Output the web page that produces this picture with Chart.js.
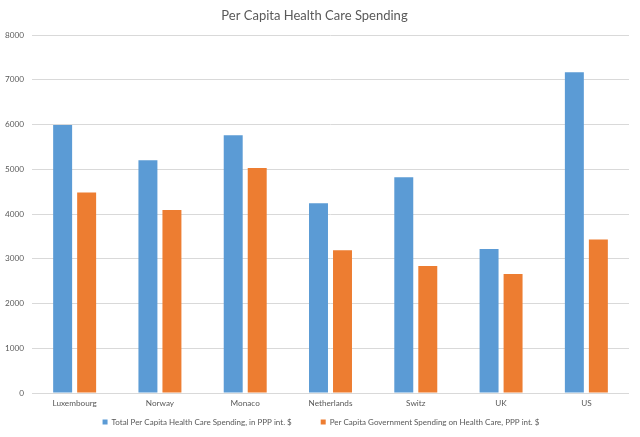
<!DOCTYPE html>
<html>
<head>
<meta charset="utf-8">
<script src="https://cdn.jsdelivr.net/npm/chart.js@4/dist/chart.umd.min.js"></script>
<style>
html,body{margin:0;padding:0;background:#fff;}
#wrap{width:640px;height:437px;position:relative;}
</style>
</head>
<body>
<div id="wrap"><canvas id="c"></canvas></div>
<script>
const categories = ["Luxembourg","Norway","Monaco","Netherlands","Switz","UK","US"];
const totalSpending = [5990,5200,5760,4240,4820,3220,7170];
const govSpending = [4480,4090,5030,3190,2840,2660,3430];
const yTicks = [0,1000,2000,3000,4000,5000,6000,7000,8000];
const seriesNames = ["Total Per Capita Health Care Spending, in PPP int. $","Per Capita Government Spending on Health Care, PPP int. $"];

const FONT = "Lato, 'Open Sans', sans-serif";
const TXT = "#595959";

// Places the legend like the reference: fixed box height, top pulled up, centred a bit right.
const legendTweak = {
  id: 'legendTweak',
  beforeLayout(chart) {
    const lg = chart.legend;
    if (lg && !lg._tweaked) {
      const f = lg.fit;
      lg.fit = function () { f.call(this); this.height = 28; };
      lg._tweaked = true;
    }
  },
  afterLayout(chart) {
    const lg = chart.legend;
    if (!lg) return;
    lg.top -= 19;
    lg.height = lg.bottom - lg.top;
    lg.left += 13;
    lg.width = lg.right - lg.left;
  }
};

new Chart(document.getElementById('c'), {
  type: 'bar',
  data: {
    labels: categories,
    datasets: [
      {label: seriesNames[0], data: totalSpending, backgroundColor: '#5B9BD5', categoryPercentage: 0.563, barPercentage: 0.79},
      {label: seriesNames[1], data: govSpending, backgroundColor: '#ED7D31', categoryPercentage: 0.563, barPercentage: 0.79}
    ]
  },
  plugins: [legendTweak],
  options: {
    responsive: true,
    maintainAspectRatio: false,
    animation: false,
    layout: {padding: {left: 0, right: 11, top: 0, bottom: 1}},
    plugins: {
      title: {display: true, text: 'Per Capita Health Care Spending', color: TXT,
        font: {family: FONT, size: 13, weight: 'normal'}, padding: {top: 8, bottom: 11.4}},
      legend: {position: 'bottom',
        labels: {color: TXT, font: {family: FONT, size: 8}, boxWidth: 5, boxHeight: 5, padding: 29}},
      tooltip: {enabled: false}
    },
    scales: {
      x: {
        afterFit: (s) => { s.height = 15; },
        grid: {display: false},
        border: {display: false},
        ticks: {color: TXT, font: {family: FONT, size: 8.2}, padding: -3, maxRotation: 0, autoSkip: false}
      },
      y: {
        min: 0, max: 8000,
        afterFit: (s) => { s.width = 32; },
        afterBuildTicks: (s) => { s.ticks = yTicks.map(v => ({value: v})); },
        grid: {color: '#d9d9d9', drawTicks: false},
        border: {display: false},
        ticks: {color: TXT, font: {family: FONT, size: 8.2}, padding: 8, callback: (v) => String(v)}
      }
    }
  }
});
</script>
</body>
</html>
